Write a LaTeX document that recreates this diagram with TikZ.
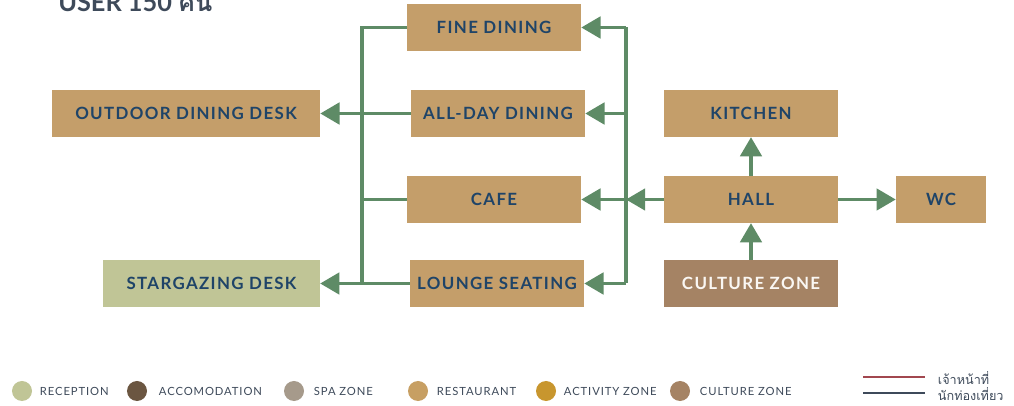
\documentclass[tikz,border=0pt]{standalone}
\usepackage{fontspec}
\setmainfont{Lato}
\newfontfamily\thaifont[Script=Thai]{Loma}
\newfontfamily\boxfont[LetterSpace=8]{Lato}
\usepackage{tikz}
\usetikzlibrary{arrows.meta, positioning}

\definecolor{linegreen}{HTML}{5E8B66}
\definecolor{tan}{HTML}{C49E6A}
\definecolor{navy}{HTML}{1F4468}
\definecolor{recep}{HTML}{C0C596}
\definecolor{accom}{HTML}{6B5641}
\definecolor{spa}{HTML}{A69A8B}
\definecolor{resto}{HTML}{C79F63}
\definecolor{activity}{HTML}{C8962E}
\definecolor{culture}{HTML}{A58364}
\definecolor{staffred}{HTML}{A2474F}
\definecolor{slate}{HTML}{3E4A5A}

\tikzset{
  zone/.style={rectangle, fill=tan, minimum width=4.35cm, minimum height=1.17cm,
    inner sep=0pt, font=\boxfont\bfseries\fontsize{12}{14}\selectfont, text=navy},
  link/.style={draw=linegreen, line width=2.2pt},
  flow/.style={link, -{Triangle[length=0.48cm, width=0.54cm]}},
  dot/.style={circle, minimum size=0.5cm, inner sep=0pt},
  legend/.style={anchor=west, font=\boxfont\fontsize{8}{9}\selectfont, text=slate},
}

\begin{document}
\begin{tikzpicture}[x=0.025cm, y=-0.025cm]
\useasboundingbox (0,0) rectangle (1014,406);

% title, cut by the page edge as in the sheet
\node[anchor=base west, inner sep=0pt, text=slate, font=\bfseries\fontsize{18}{19}\selectfont] (title) at (58,12) {USER 150 {\thaifont คน}};

% dining side
\node[zone] (fine) at (494,27.5) {FINE DINING};
\node[zone] (allday) at (498,113.5) {ALL-DAY DINING};
\node[zone] (cafe) at (494,199.5) {CAFE};
\node[zone] (lounge) at (497,283.5) {LOUNGE SEATING};
\node[zone, minimum width=6.7cm] (outdoor) at (186,113.5) {OUTDOOR DINING DESK};
\node[zone, minimum width=5.42cm, fill=recep] (star) at (211.5,283.5) {STARGAZING DESK};

% hall side
\node[zone] (kitchen) at (751,113.5) {KITCHEN};
\node[zone] (hall) at (751,199.5) {HALL};
\node[zone, minimum width=2.25cm] (wc) at (941,199.5) {WC};
\node[zone, fill=culture, text=white!92!tan] (culture) at (751,283.5) {CULTURE ZONE};

% bus lines
\coordinate (lbus) at (362,283.5);
\coordinate (rtop) at (626,27.5);
\coordinate (rbot) at (626,283.5);

\draw[link] (fine.west) -| (lbus);
\draw[link] (cafe.west) -- (cafe.west -| lbus);
\draw[flow] (allday.west) -- (outdoor.east);
\draw[flow] (lounge.west) -- (star.east);

\draw[link] (rtop) -- (rbot);
\draw[flow] (rtop) -- (fine.east);
\draw[flow] (allday.east -| rtop) -- (allday.east);
\draw[flow] (cafe.east -| rtop) -- (cafe.east);
\draw[flow] (rbot) -- (lounge.east);
\draw[flow] (hall.west) -- (hall.west -| rtop);

\draw[flow] (hall) -- (kitchen);
\draw[flow] (culture) -- (hall);
\draw[flow] (hall) -- (wc);

% legend
\node[dot, fill=recep] (d1) at (22,391) {};
\node[legend] (l1) at (35,391) {RECEPTION};
\node[dot, fill=accom] (d2) at (137,391) {};
\node[legend] (l2) at (154,391) {ACCOMODATION};
\node[dot, fill=spa] (d3) at (294,391) {};
\node[legend] (l3) at (309,391) {SPA ZONE};
\node[dot, fill=resto] (d4) at (418,391) {};
\node[legend] (l4) at (432,391) {RESTAURANT};
\node[dot, fill=activity] (d5) at (546,391) {};
\node[legend] (l5) at (559,391) {ACTIVITY ZONE};
\node[dot, fill=culture] (d6) at (680,391) {};
\node[legend] (l6) at (695,391) {CULTURE ZONE};

\coordinate (s1) at (863,377);
\coordinate (s2) at (925,377);
\coordinate (t1) at (863,393);
\coordinate (t2) at (925,393);
\draw[staffred, line width=1.6pt] (s1) -- (s2);
\draw[slate, line width=1.6pt] (t1) -- (t2);
\node[legend, font=\thaifont\fontsize{9}{10}\selectfont] (staff) at (933,378) {เจ้าหน้าที่};
\node[legend, font=\thaifont\fontsize{9}{10}\selectfont] (tourist) at (933,394) {นักท่องเที่ยว};
\end{tikzpicture}
\end{document}
